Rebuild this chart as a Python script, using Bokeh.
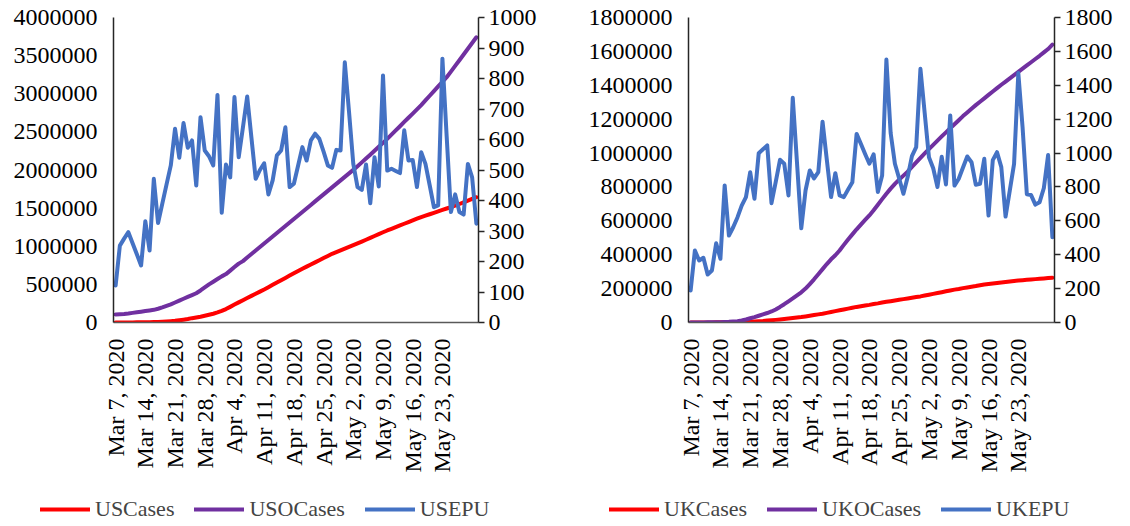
import math
from bokeh.plotting import figure
from bokeh.models import (Range1d, LinearAxis, FixedTicker, NumeralTickFormatter,
                          Legend, LegendItem)
from bokeh.layouts import row, column
from bokeh.embed import file_html
from bokeh.resources import INLINE

# ---------------- data (daily, Mar 7 2020 .. May 31 2020) ----------------
tick_days = [0, 7, 14, 21, 28, 35, 42, 49, 56, 63, 70, 77]
tick_labels = ["Mar 7, 2020", "Mar 14, 2020", "Mar 21, 2020", "Mar 28, 2020",
               "Apr 4, 2020", "Apr 11, 2020", "Apr 18, 2020", "Apr 25, 2020",
               "May 2, 2020", "May 9, 2020", "May 16, 2020", "May 23, 2020"]

# thousands of cases
us_cases_k = [0.4, 0.5, 0.7, 1.0, 1.3, 1.7, 2.2, 3.0, 4.0, 5.5,
              7.5, 10, 13, 17, 22, 29, 37, 46, 57, 66,
              76, 88, 101, 115, 132, 152, 176, 205, 235, 264,
              293, 321, 349, 377, 405, 433, 463, 494, 524, 555,
              585, 615, 646, 676, 705, 733, 761, 789, 817, 845,
              873, 901, 923, 946, 969, 991, 1014, 1037, 1061, 1085,
              1110, 1134, 1158, 1183, 1207, 1229, 1251, 1273, 1295, 1317,
              1339, 1361, 1383, 1402, 1420, 1439, 1458, 1476, 1495, 1514,
              1532, 1554, 1576, 1598, 1620, 1643]
us_ocases_k = [105, 108, 112, 118, 126, 135, 142, 150, 158, 166,
               180, 198, 218, 238, 262, 287, 311, 335, 359, 384,
               420, 460, 500, 535, 570, 605, 635, 680, 727, 772,
               805, 852, 898, 944, 990, 1036, 1082, 1128, 1174, 1220,
               1266, 1312, 1358, 1404, 1450, 1496, 1542, 1588, 1634, 1680,
               1726, 1772, 1818, 1864, 1910, 1956, 2002, 2050, 2100, 2150,
               2200, 2252, 2304, 2356, 2408, 2463, 2519, 2574, 2630, 2685,
               2740, 2796, 2852, 2913, 2974, 3035, 3096, 3156, 3217, 3290,
               3365, 3440, 3515, 3590, 3665, 3741]
us_epu = [121, 252, 275, 296, 260, 224, 187, 332, 236, 471,
          326, 390, 453, 515, 635, 540, 654, 573, 597, 449,
          673, 564, 545, 515, 746, 360, 518, 476, 739, 542,
          640, 741, 606, 471, 500, 522, 420, 466, 548, 564,
          640, 444, 455, 515, 575, 531, 597, 619, 602, 560,
          515, 507, 566, 564, 853, 690, 520, 444, 435, 518,
          391, 542, 446, 810, 498, 504, 497, 490, 630, 531,
          533, 444, 558, 520, 450, 378, 384, 865, 610, 362,
          420, 362, 354, 520, 476, 324]

uk_cases_k = [0.2, 0.3, 0.3, 0.4, 0.5, 0.6, 0.8, 1.1, 1.4, 1.9,
              2.6, 3.3, 4.0, 5.0, 5.7, 6.6, 8.1, 9.5, 11.7, 13.5,
              15.5, 17.5, 20, 23, 26, 29, 32, 36, 40, 44,
              48, 52, 57, 62, 67, 72, 77, 82, 87, 92,
              96, 100, 104, 109, 113, 118, 122, 126, 130, 134,
              138, 142, 146, 150, 154, 159, 164, 169, 174, 179,
              184, 189, 194, 198, 203, 207, 211, 215, 220, 224,
              227, 230, 233, 236, 239, 242, 245, 248, 250, 252,
              254, 256, 258, 260, 262, 264]
uk_ocases_k = [0.2, 0.3, 0.5, 0.7, 1, 1.3, 1.7, 2.2, 3, 4,
               6, 8, 12, 18, 25, 32, 40, 48, 56, 65,
               77, 92, 108, 125, 142, 160, 178, 200, 227, 255,
               285, 315, 345, 373, 397, 425, 458, 490, 520, 550,
               578, 605, 632, 662, 695, 728, 760, 790, 818, 843,
               867, 890, 918, 945, 972, 998, 1023, 1048, 1073, 1098,
               1122, 1146, 1170, 1194, 1218, 1240, 1262, 1283, 1303, 1323,
               1343, 1363, 1383, 1403, 1422, 1441, 1460, 1479, 1498, 1517,
               1536, 1555, 1574, 1594, 1614, 1640]
uk_epu = [189, 425, 366, 382, 283, 307, 468, 376, 809, 513,
          562, 620, 690, 740, 887, 730, 999, 1022, 1045, 704,
          830, 960, 937, 750, 1326, 940, 556, 779, 897, 850,
          887, 1185, 960, 740, 881, 750, 740, 785, 828, 1113,
          1055, 995, 937, 993, 770, 868, 1552, 1118, 937, 850,
          760, 858, 982, 1035, 1497, 1236, 975, 910, 800, 978,
          815, 1222, 808, 848, 915, 980, 946, 813, 818, 966,
          631, 958, 1005, 917, 625, 780, 936, 1472, 1152, 757,
          752, 696, 710, 794, 988, 503]

FONT = "Liberation Serif"
RED, PURPLE, BLUE = "#FF0000", "#7030A0", "#4472C4"
AXIS_COLOR = "#262626"
FIG_H = 488
LEG_H = 36
FRAME_TOP, FRAME_BOTTOM = 17, 322
LINE_KW = dict(line_width=4, line_join="round", line_cap="round")


def style_axis(ax, size="24px"):
    ax.major_label_text_font = FONT
    ax.major_label_text_font_size = size
    ax.major_label_text_color = "#000000"
    ax.axis_line_color = AXIS_COLOR
    ax.axis_line_width = 1.5
    ax.minor_tick_line_color = None
    ax.axis_label = None


def panel(cases_k, ocases_k, epu, ymax, ystep, rmax, rstep, width, left, right):
    p = figure(width=width, height=FIG_H, output_backend="svg", toolbar_location=None,
               x_range=Range1d(-0.5, len(epu) - 0.5), y_range=Range1d(0, ymax),
               min_border_left=left, min_border_right=right,
               min_border_top=FRAME_TOP, min_border_bottom=FIG_H - FRAME_BOTTOM)
    p.outline_line_color = None
    p.xgrid.grid_line_color = None
    p.ygrid.grid_line_color = None
    p.extra_y_ranges = {"epu": Range1d(0, rmax)}

    x = list(range(len(epu)))
    p.line(x, [v * 1000 for v in cases_k], line_color=RED, **LINE_KW)
    p.line(x, [v * 1000 for v in ocases_k], line_color=PURPLE, **LINE_KW)
    p.line(x, epu, line_color=BLUE, y_range_name="epu", **LINE_KW)

    ya = p.yaxis[0]
    ya.ticker = FixedTicker(ticks=list(range(0, ymax + 1, ystep)))
    ya.formatter = NumeralTickFormatter(format="0")
    ya.major_tick_in = 0
    ya.major_tick_out = 0
    ya.major_label_standoff = 16
    style_axis(ya)

    ra = LinearAxis(y_range_name="epu",
                    ticker=FixedTicker(ticks=list(range(0, rmax + 1, rstep))),
                    formatter=NumeralTickFormatter(format="0"))
    ra.major_tick_in = 0
    ra.major_tick_out = 6
    ra.major_tick_line_color = AXIS_COLOR
    ra.major_tick_line_width = 1.5
    ra.major_label_standoff = 4
    style_axis(ra)
    p.add_layout(ra, "right")

    xa = p.xaxis[0]
    xa.ticker = FixedTicker(ticks=tick_days)
    xa.major_label_overrides = {d: lab for d, lab in zip(tick_days, tick_labels)}
    xa.major_label_orientation = math.pi / 2
    xa.major_tick_in = 0
    xa.major_tick_out = 0
    xa.major_label_standoff = 16
    style_axis(xa)
    xa.axis_line_color = "#595959"
    return p


p1 = panel(us_cases_k, us_ocases_k, us_epu, 4000000, 500000, 1000, 100,
           width=565, left=113, right=87)
p2 = panel(uk_cases_k, uk_ocases_k, uk_epu, 1800000, 200000, 1800, 200,
           width=563, left=123, right=74)

# legend strip below both panels (the series lie outside its visible range)
leg = figure(width=1128, height=LEG_H, output_backend="svg", toolbar_location=None,
             x_range=Range1d(0, 1128), y_range=Range1d(0, LEG_H),
             x_axis_type=None, y_axis_type=None,
             min_border_left=0, min_border_right=0, min_border_top=0, min_border_bottom=0)
leg.outline_line_color = None
leg.xgrid.grid_line_color = None
leg.ygrid.grid_line_color = None
xs = list(range(len(us_epu)))
hidden = -1000000


def series_items(names, series):
    items = []
    for name, ser, col in zip(names, series, [RED, PURPLE, BLUE]):
        r = leg.line(xs, [hidden - v for v in ser], line_color=col, **LINE_KW)
        items.append(LegendItem(label=name, renderers=[r]))
    return items


for names, series, lx in [(["USCases", "USOCases", "USEPU"], [us_cases_k, us_ocases_k, us_epu], 40),
                          (["UKCases", "UKOCases", "UKEPU"], [uk_cases_k, uk_ocases_k, uk_epu], 609)]:
    lg = Legend(items=series_items(names, series), orientation="horizontal",
                location=(lx, 2), padding=0, margin=0, spacing=20, glyph_width=50,
                glyph_height=20, label_height=20, label_standoff=5,
                border_line_color=None, background_fill_alpha=0,
                label_text_font=FONT, label_text_font_size="22px")
    leg.add_layout(lg)

layout = column(row(p1, p2), leg)
open("out.html", "w").write(file_html(layout, INLINE))
